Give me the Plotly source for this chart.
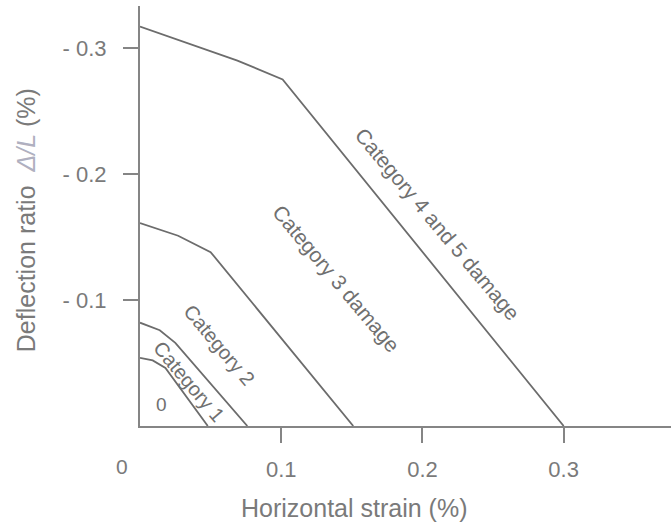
import plotly.graph_objects as go

# Boundary lines between damage categories (x: horizontal strain %, y: |deflection ratio| %)
cat1_x = [0.0, 0.009, 0.018, 0.048]
cat1_y = [0.054, 0.052, 0.046, 0.0]
cat2_x = [0.0, 0.014, 0.025, 0.076]
cat2_y = [0.082, 0.076, 0.066, 0.0]
cat3_x = [0.0, 0.027, 0.050, 0.151]
cat3_y = [0.161, 0.151, 0.138, 0.0]
cat4_x = [0.0, 0.069, 0.101, 0.300]
cat4_y = [0.317, 0.290, 0.275, 0.0]

# Region labels
label_text = ["Category 4 and 5 damage", "Category 3 damage", "Category 2", "Category 1", "0"]
label_x = [0.211, 0.139, 0.056, 0.035, 0.015]
label_y = [0.160, 0.117, 0.064, 0.035, 0.017]
label_angle = [50, 50, 50, 50, 0]

x_tickvals = [0.1, 0.2, 0.3]
x_ticktext = ["0.1", "0.2", "0.3"]
y_tickvals = [0.1, 0.2, 0.3]
y_ticktext = ["- 0.1", "- 0.2", "- 0.3"]

LINE = "#6c6c6c"
AXIS = "#858585"
TXT = "#7a7a7a"
FONT = "Liberation Sans, Arial, sans-serif"

fig = go.Figure()
for xs, ys in [(cat1_x, cat1_y), (cat2_x, cat2_y), (cat3_x, cat3_y), (cat4_x, cat4_y)]:
    fig.add_trace(go.Scatter(x=xs, y=ys, mode="lines",
                             line=dict(color=LINE, width=1.8),
                             showlegend=False, hoverinfo="skip"))

label_size = [21, 21, 20, 20, 19]
for t, x, y, a, s in zip(label_text, label_x, label_y, label_angle, label_size):
    fig.add_annotation(x=x, y=y, xref="x", yref="y", text=t, showarrow=False,
                       textangle=a, font=dict(family=FONT, size=s, color="#707070"),
                       xanchor="center", yanchor="middle")

# corner "0" tick label of the x axis
fig.add_annotation(x=0, y=0, xref="x", yref="y", text="0", showarrow=False,
                   xshift=-18, yshift=-40, font=dict(family=FONT, size=21, color=TXT),
                   xanchor="center", yanchor="middle")

# axis titles
fig.add_annotation(x=0.1516, y=0, xref="x", yref="paper", text="Horizontal strain (%)",
                   showarrow=False, yshift=-82, xanchor="center", yanchor="middle",
                   font=dict(family=FONT, size=25, color=TXT))
fig.add_annotation(x=0, y=0.49, xref="paper", yref="paper",
                   text="Deflection ratio  <i><span style='color:#b0b0c0'>\u0394/L</span></i> (%)",
                   showarrow=False, textangle=-90, xshift=-114, xanchor="center", yanchor="middle",
                   font=dict(family=FONT, size=25, color=TXT))

fig.update_layout(
    width=671, height=524,
    margin=dict(l=140, r=0, t=6, b=98),
    paper_bgcolor="white", plot_bgcolor="white",
    xaxis=dict(range=[0, 0.376], showgrid=False, zeroline=False,
               showline=True, linecolor=AXIS, linewidth=2,
               ticks="outside", ticklen=15, tickwidth=2, tickcolor=AXIS,
               tickvals=x_tickvals, ticktext=x_ticktext, ticklabelstandoff=8,
               tickfont=dict(family=FONT, size=22, color=TXT)),
    yaxis=dict(range=[0, 0.3333], showgrid=False, zeroline=False,
               showline=True, linecolor=AXIS, linewidth=2,
               ticks="outside", ticklen=15, tickwidth=2, tickcolor=AXIS,
               tickvals=y_tickvals, ticktext=y_ticktext, ticklabelstandoff=12,
               tickfont=dict(family=FONT, size=22, color=TXT)),
)

fig.write_html("out.html", config={"displayModeBar": False},
               post_script="document.body.style.margin='0';document.body.style.padding='0';")
